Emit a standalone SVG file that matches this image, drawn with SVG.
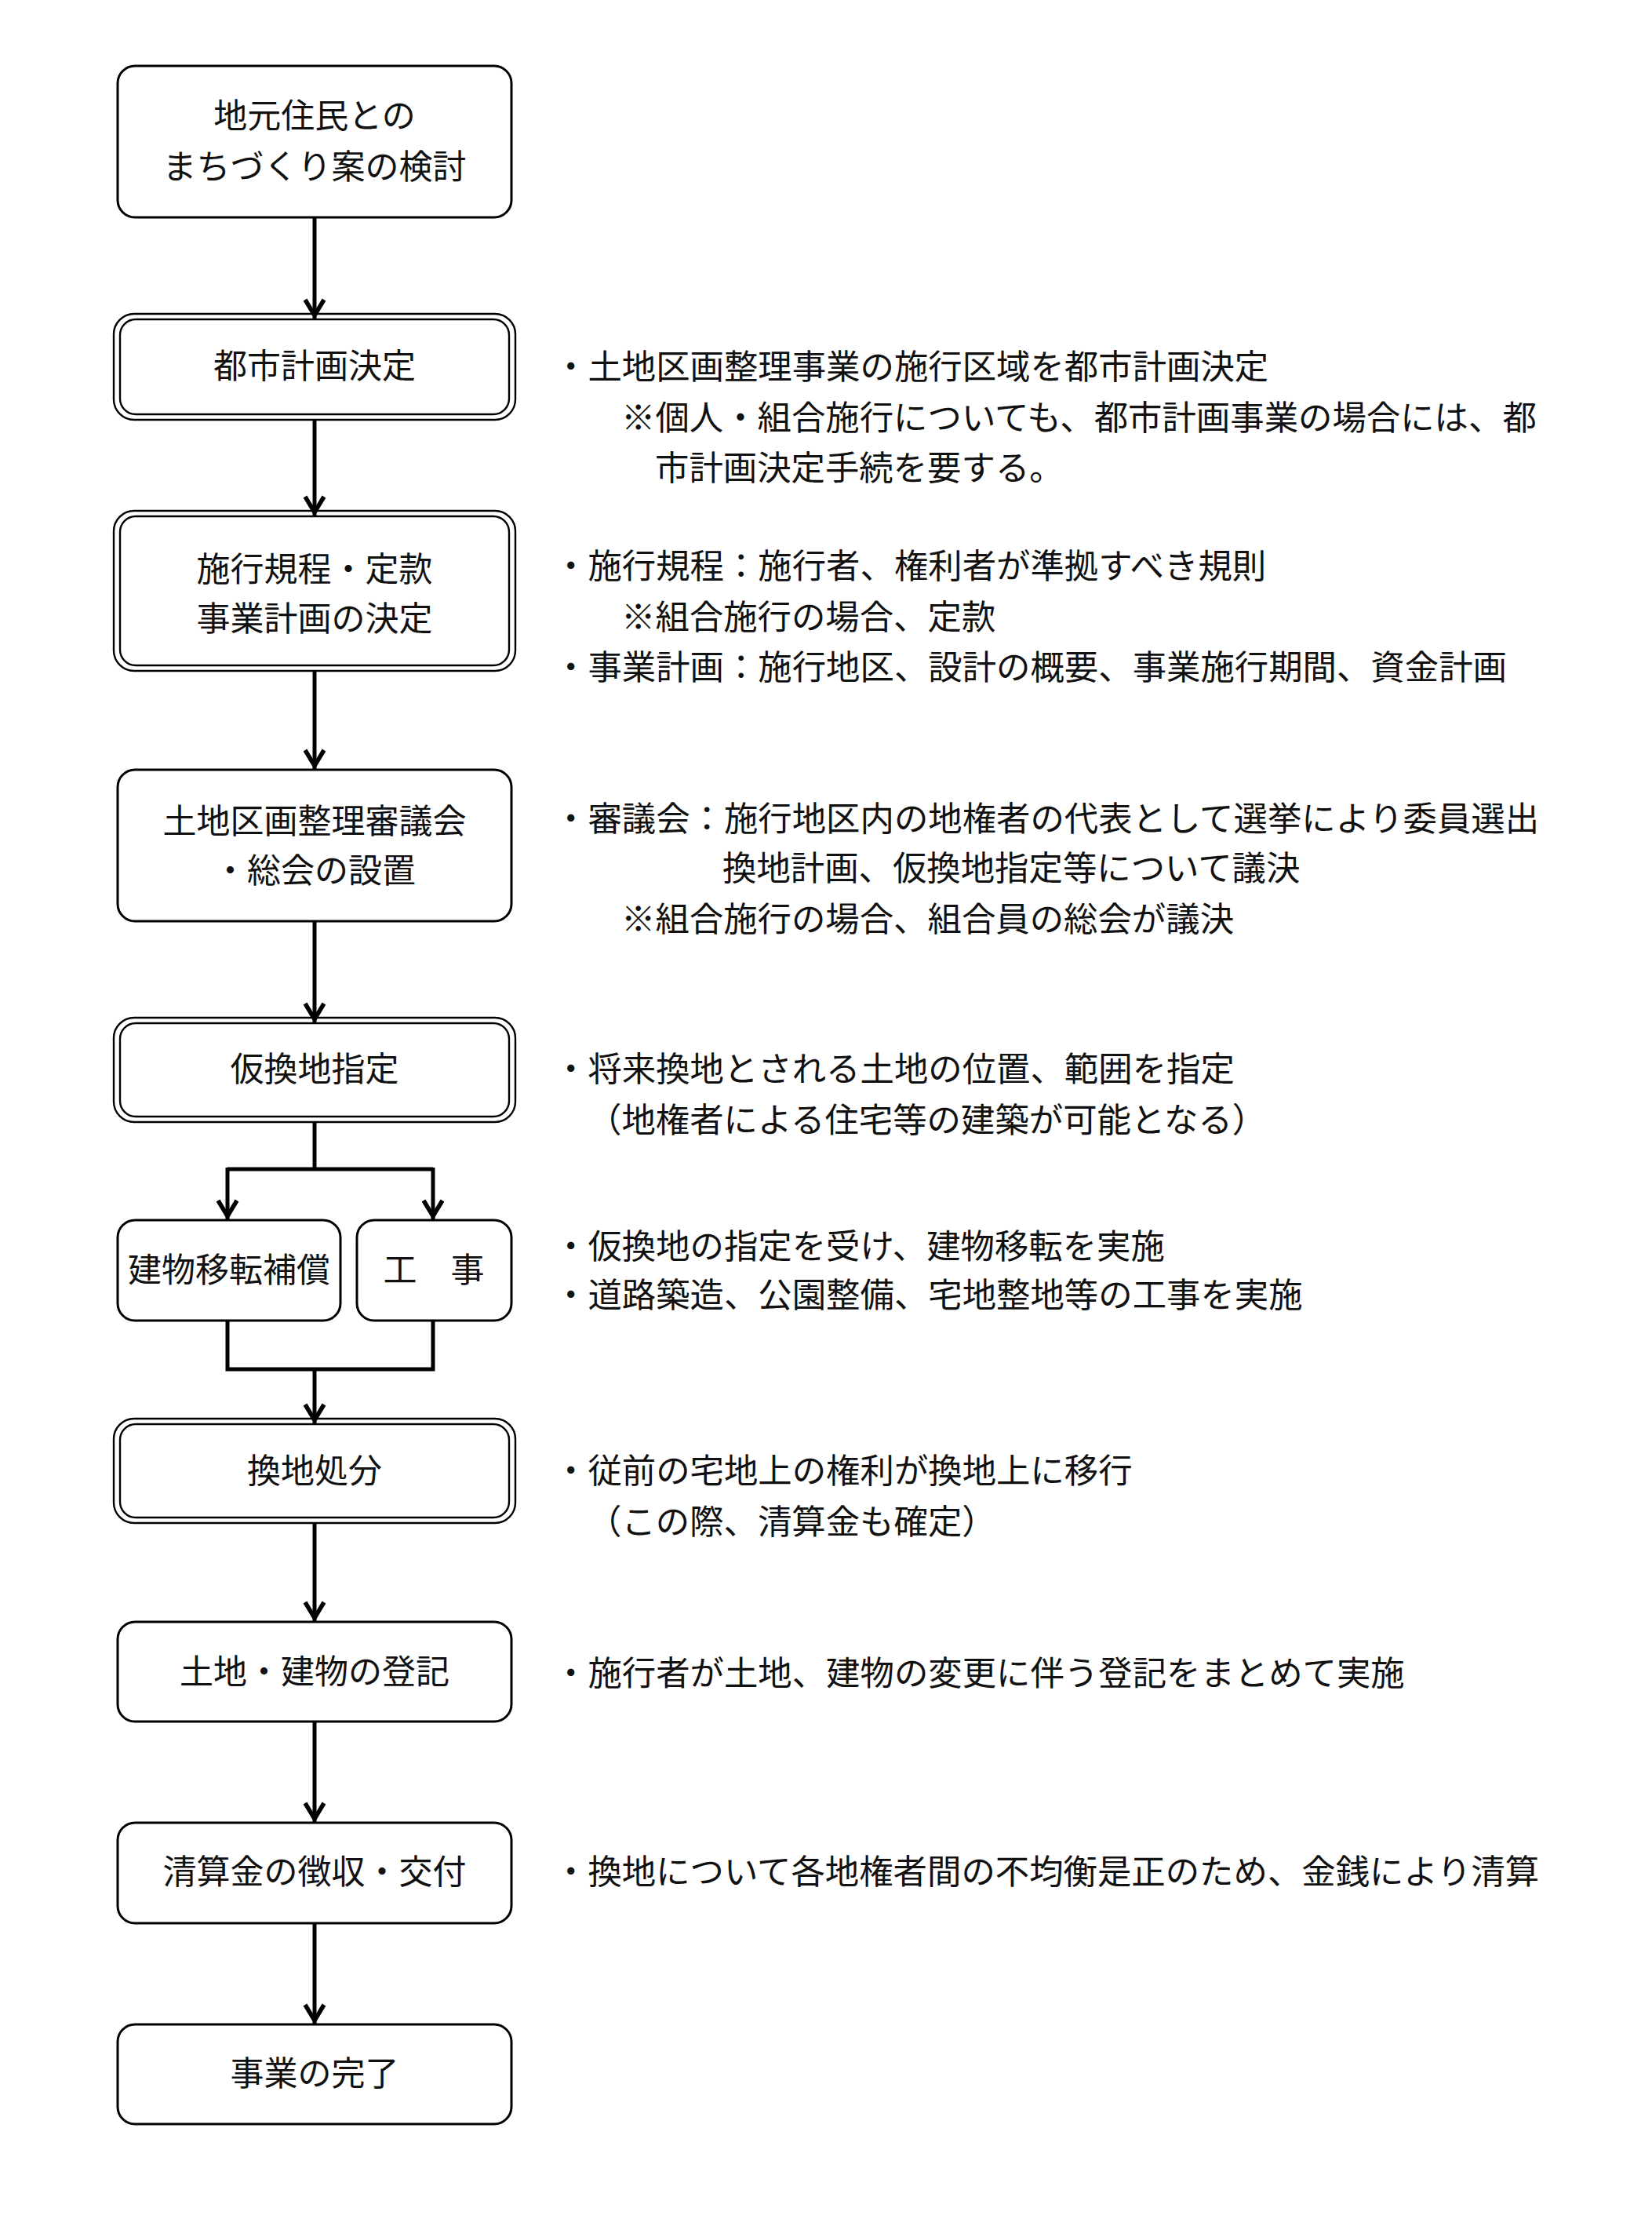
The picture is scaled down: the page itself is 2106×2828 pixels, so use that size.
<svg xmlns="http://www.w3.org/2000/svg" width="2106" height="2828" viewBox="0 0 2106 2828">
<style>
.bg{fill:#fff}
.box{fill:#fff;stroke:#000;stroke-width:3}
.dbl{fill:none;stroke:#000;stroke-width:2.4}
.t{font-family:"Noto Sans CJK JP","Noto Sans CJK SC",sans-serif;font-size:43px;fill:#111;text-anchor:middle;dominant-baseline:central}
.n{font-family:"Noto Sans CJK JP","Noto Sans CJK SC",sans-serif;font-size:43.4px;fill:#111;dominant-baseline:central}
.c{fill:none;stroke:#000;stroke-width:5}
.a{fill:none;stroke:#000;stroke-width:5;marker-end:url(#arr)}
</style>
<defs>
<marker id="arr" viewBox="-28 -16 32 32" refX="0" refY="0" markerWidth="32" markerHeight="32" orient="auto" markerUnits="userSpaceOnUse">
<path d="M-25,-12 L-5,0 L-25,12" fill="none" stroke="#000" stroke-width="5.5"/>
</marker>
</defs>
<rect class="bg" x="0" y="0" width="2106" height="2828"/>

<g id="connectors">
<path class="a" d="M401,277 V407"/>
<path class="a" d="M401,535 V658"/>
<path class="a" d="M401,855 V981"/>
<path class="a" d="M401,1174 V1304"/>
<path class="c" d="M401,1430 V1490"/>
<path class="c" d="M290,1490 H552"/>
<path class="a" d="M290,1488 V1555"/>
<path class="a" d="M552,1488 V1555"/>
<path class="c" d="M290,1683 V1745 H552 V1683"/>
<path class="a" d="M401,1745 V1815"/>
<path class="a" d="M401,1941 V2067"/>
<path class="a" d="M401,2194 V2323"/>
<path class="a" d="M401,2451 V2580"/>
</g>

<g id="n1">
<rect class="box" x="150" y="84" width="502" height="193" rx="22"/>
<text class="t" x="401" y="144">地元住民との</text>
<text class="t" x="401" y="209">まちづくり案の検討</text>
</g>

<g id="n2">
<rect class="dbl" x="145" y="400" width="512" height="135" rx="26"/>
<rect class="dbl" x="153" y="407" width="496" height="121" rx="20"/>
<text class="t" x="401" y="463">都市計画決定</text>
</g>

<g id="n3">
<rect class="dbl" x="145" y="651" width="512" height="204" rx="26"/>
<rect class="dbl" x="153" y="658" width="496" height="190" rx="20"/>
<text class="t" x="401" y="722">施行規程・定款</text>
<text class="t" x="401" y="785">事業計画の決定</text>
</g>

<g id="n4">
<rect class="box" x="150" y="981" width="502" height="193" rx="22"/>
<text class="t" x="401" y="1043">土地区画整理審議会</text>
<text class="t" x="401" y="1106">・総会の設置</text>
</g>

<g id="n5">
<rect class="dbl" x="145" y="1297" width="512" height="133" rx="26"/>
<rect class="dbl" x="153" y="1304" width="496" height="119" rx="20"/>
<text class="t" x="401" y="1359">仮換地指定</text>
</g>

<g id="n6a">
<rect class="box" x="150" y="1555" width="284" height="128" rx="22"/>
<text class="t" x="292" y="1615">建物移転補償</text>
</g>

<g id="n6b">
<rect class="box" x="455" y="1555" width="197" height="128" rx="22"/>
<text class="t" x="553" y="1615">工　事</text>
</g>

<g id="n7">
<rect class="dbl" x="145" y="1808" width="512" height="133" rx="26"/>
<rect class="dbl" x="153" y="1815" width="496" height="119" rx="20"/>
<text class="t" x="401" y="1871">換地処分</text>
</g>

<g id="n8">
<rect class="box" x="150" y="2067" width="502" height="127" rx="22"/>
<text class="t" x="401" y="2127">土地・建物の登記</text>
</g>

<g id="n9">
<rect class="box" x="150" y="2323" width="502" height="128" rx="22"/>
<text class="t" x="401" y="2382">清算金の徴収・交付</text>
</g>

<g id="n10">
<rect class="box" x="150" y="2580" width="502" height="127" rx="22"/>
<text class="t" x="401" y="2639">事業の完了</text>
</g>

<g id="notes">
<text class="n" x="706" y="464">・土地区画整理事業の施行区域を都市計画決定</text>
<text class="n" x="792" y="529">※個人・組合施行についても、都市計画事業の場合には、都</text>
<text class="n" x="835" y="593">市計画決定手続を要する。</text>
<text class="n" x="706" y="718">・施行規程：施行者、権利者が準拠すべき規則</text>
<text class="n" x="792" y="783">※組合施行の場合、定款</text>
<text class="n" x="706" y="847">・事業計画：施行地区、設計の概要、事業施行期間、資金計画</text>
<text class="n" x="706" y="1040">・審議会：施行地区内の地権者の代表として選挙により委員選出</text>
<text class="n" x="921" y="1103">換地計画、仮換地指定等について議決</text>
<text class="n" x="792" y="1168">※組合施行の場合、組合員の総会が議決</text>
<text class="n" x="706" y="1359">・将来換地とされる土地の位置、範囲を指定</text>
<text class="n" x="749" y="1424">（地権者による住宅等の建築が可能となる）</text>
<text class="n" x="706" y="1585">・仮換地の指定を受け、建物移転を実施</text>
<text class="n" x="706" y="1647">・道路築造、公園整備、宅地整地等の工事を実施</text>
<text class="n" x="706" y="1871">・従前の宅地上の権利が換地上に移行</text>
<text class="n" x="749" y="1936">（この際、清算金も確定）</text>
<text class="n" x="706" y="2129">・施行者が土地、建物の変更に伴う登記をまとめて実施</text>
<text class="n" x="706" y="2382">・換地について各地権者間の不均衡是正のため、金銭により清算</text>
</g>
</svg>
